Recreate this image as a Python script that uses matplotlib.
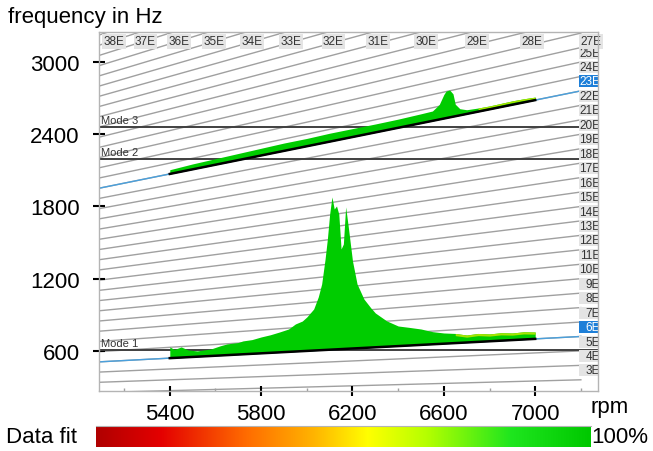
import numpy as np
import matplotlib
matplotlib.use("Agg")
import matplotlib.pyplot as plt
from matplotlib.colors import LinearSegmentedColormap
from matplotlib.patches import Rectangle

plt.rcParams['font.family'] = ['Liberation Sans', 'DejaVu Sans']

# order lines (engine orders) and tracked orders
orders = list(range(3, 39))
tracked = [6, 23]
rpm_min, rpm_max = 5090, 7200
rpm_run = [5400, 7000]

# natural modes (Hz)
mode_names = ['Mode 1', 'Mode 2', 'Mode 3']
mode_freq = [610, 2197, 2463]

# order 6 trace: amplitude above the order line (Hz)
rpm6 = [5400, 5420, 5450, 5480, 5520, 5580, 5620, 5650, 5700, 5720, 5760, 5800,
        5840, 5880, 5920, 5950, 5980, 6000, 6030, 6050,
        6065, 6080, 6090, 6100, 6110, 6120, 6130, 6140, 6150, 6160, 6170, 6180,
        6200, 6220, 6250, 6280, 6300, 6350, 6400, 6450, 6500, 6550, 6600, 6650,
        6700, 6750, 6800, 6850, 6900, 6950, 7000]
amp6 = [93, 70, 88, 60, 48, 58, 80, 93, 100, 111, 118, 136,
        150, 169, 190, 229, 250, 282, 345, 443,
        550, 756, 921, 1127, 1268, 1167, 1191, 1123, 832, 872, 1179, 1036,
        727, 534, 406, 330, 285, 214, 167, 150, 132, 105, 89, 80,
        62, 70, 61, 66, 59, 64, 57]

# order 23 trace
rpm23 = [5400, 5500, 5600, 5700, 5800, 5900, 6000, 6100, 6200, 6300, 6400, 6500,
         6550, 6580, 6600, 6610, 6625, 6640, 6650, 6670, 6700, 6750, 6800, 6850,
         6900, 6950, 7000]
amp23 = [35, 45, 50, 55, 60, 65, 65, 70, 70, 70, 72, 78,
         82, 125, 200, 225, 228, 190, 100, 55, 35, 30, 28, 30,
         32, 30, 25]

xticks = [5400, 5800, 6200, 6600, 7000]
yticks = [600, 1200, 1800, 2400, 3000]

fig = plt.figure(figsize=(6.53, 4.52), dpi=100)
ax = fig.add_axes([99/653, 60/452, 499/653, 359/452])
xlo, xhi = 5090, 7275
ylo, yhi = 267, 3249
ax.set_xlim(xlo, xhi)
ax.set_ylim(ylo, yhi)

grey = '#a0a0a0'
r = np.array([rpm_min, rpm_max])
for n in orders:
    ax.plot(r, n*r/60., color=grey, lw=1, zorder=1)

for f, name in zip(mode_freq, mode_names):
    ax.axhline(f, color='#404040', lw=1.4, zorder=2)
    ax.text(5100, f+12, name, fontsize=8, color='#333333', ha='left', va='bottom', zorder=2)

for n in tracked:
    ax.plot(r, n*r/60., color='#4aa0dc', lw=1, zorder=3)
    rr = np.array(rpm_run)
    ax.plot(rr, n*rr/60., color='black', lw=1.8, zorder=5)

x6 = np.array(rpm6)
top6 = 6*x6/60. + np.array(amp6)
ax.fill_between(x6, 6*x6/60., top6, color='#00cc00', lw=0, zorder=4)
x23 = np.array(rpm23)
top23 = 23*x23/60. + np.array(amp23)
ax.fill_between(x23, 23*x23/60., top23, color='#00cc00', lw=0, zorder=4)
# lighter fringe on the high-rpm ends
m6 = x6 >= 6650
ax.fill_between(x6[m6], top6[m6]-18, top6[m6], color='#a6e400', lw=0, zorder=4)
m23 = x23 >= 6750
ax.fill_between(x23[m23], top23[m23]-14, top23[m23], color='#a6e400', lw=0, zorder=4)

# right column labels
for n in orders:
    if n > 25:
        continue
    fend = n*rpm_max/60.
    hl = n in tracked
    yc = fend + 78
    ax.add_patch(Rectangle((rpm_max - 10, yc - 50), xhi - rpm_max + 20, 100,
                           fc='#1e7fd8' if hl else '#e4e4e4', ec='none', zorder=6))
    ax.text(xhi + 10, yc, '%dE' % n, fontsize=8.5, ha='right', va='center',
            color='white' if hl else '#333333', zorder=6, clip_on=True)

# top row labels
for n in orders:
    if n < 27:
        continue
    xc = min(60.*yhi/n, rpm_max + 30)
    ax.annotate('%dE' % n, (xc, yhi), xytext=(-3.5, -2.5), textcoords='offset points',
                fontsize=8.5, ha='left', va='top', color='#333333', zorder=7,
                bbox=dict(boxstyle='square,pad=0.12', fc='#e4e4e4', ec='none'))

for s in ax.spines.values():
    s.set_color('#b4b4b4')
    s.set_linewidth(1)
    s.set_zorder(8)

ax.set_xticks(xticks)
ax.set_yticks(yticks)
ax.set_xticks(np.arange(5200, 7201, 200), minor=True)
ax.tick_params(axis='x', which='major', direction='inout', length=7, width=1.5,
               labelsize=16, pad=5)
ax.tick_params(axis='x', which='minor', direction='in', length=2, width=1, color=grey)
ax.tick_params(axis='y', direction='inout', length=8, width=1.5, labelsize=16, pad=10)

fig.text(8/653, 1-18/452, 'frequency in Hz', fontsize=16, ha='left', va='center')
fig.text(590/653, 1-408/452, 'rpm', fontsize=16, ha='left', va='center')
fig.text(6/653, 1-438/452, 'Data fit', fontsize=16, ha='left', va='center')
fig.text(591/653, 1-438/452, '100%', fontsize=16, ha='left', va='center')

# colour bar
cmap = LinearSegmentedColormap.from_list('fit', [
    (0.0, '#b00000'), (0.13, '#e40000'), (0.3, '#ff6a00'), (0.44, '#ffb400'),
    (0.55, '#ffff00'), (0.67, '#b4ff00'), (0.84, '#1ee61e'), (1.0, '#00c800')])
cax = fig.add_axes([96/653, 4/452, 495/653, 21/452])
cax.imshow(np.linspace(0, 1, 256)[None, :], aspect='auto', cmap=cmap, extent=[0, 1, 0, 1])
cax.set_xticks([])
cax.set_yticks([])
for k, s in cax.spines.items():
    s.set_visible(k == 'top')
    s.set_color('#b4b4b4')

fig.savefig('out.png', dpi=100)
